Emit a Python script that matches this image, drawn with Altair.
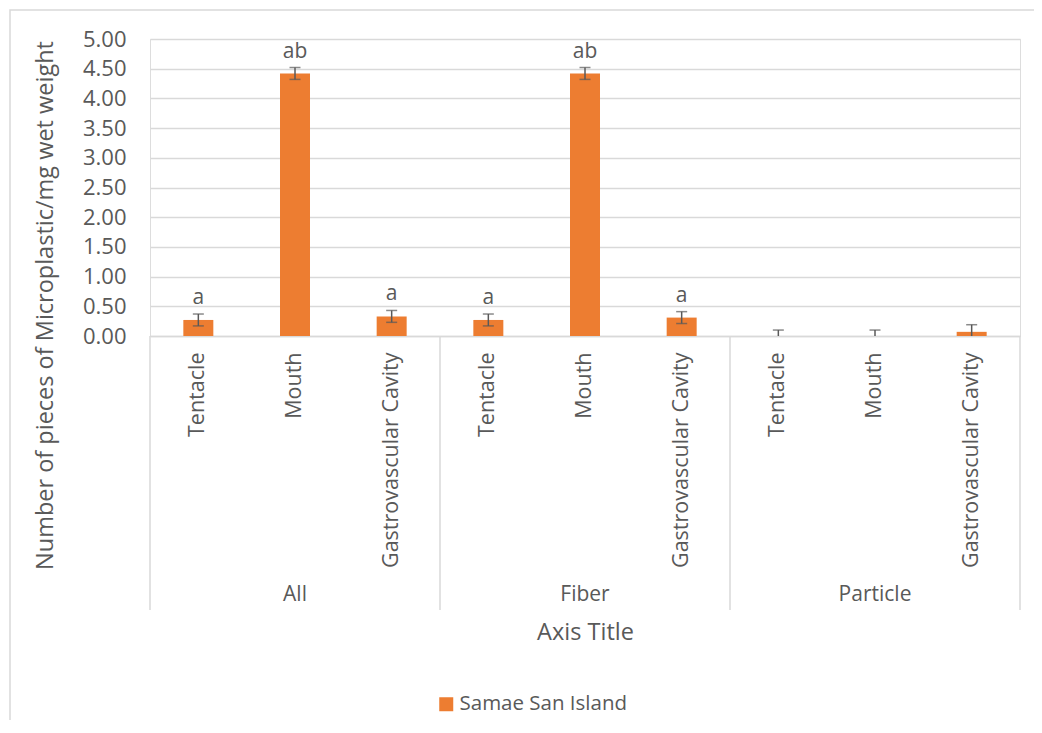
import altair as alt
import pandas as pd

# ---- data ----
groups = ["All", "All", "All", "Fiber", "Fiber", "Fiber", "Particle", "Particle", "Particle"]
parts = ["Tentacle", "Mouth", "Gastrovascular Cavity"] * 3
values = [0.27, 4.42, 0.33, 0.27, 4.42, 0.31, 0.0, 0.0, 0.07]
errors = [0.10, 0.10, 0.10, 0.10, 0.10, 0.10, 0.10, 0.10, 0.12]
letters = ["a", "ab", "a", "a", "ab", "a", "", "", ""]
series_name = "Samae San Island"
group_names = ["All", "Fiber", "Particle"]
group_pos = [0.5, 1.5, 2.5]
boundaries = [0, 1, 2, 3]
y_ticks = [0, 0.5, 1, 1.5, 2, 2.5, 3, 3.5, 4, 4.5, 5]

FONT = "Open Sans"
TXT = "#595959"
GRID = "#D9D9D9"
ORANGE = "#ED7D31"

W, H = 870, 297

df = pd.DataFrame({
    "key": [f"{g}|{p}" for g, p in zip(groups, parts)],
    "group": groups,
    "part": parts,
    "value": values,
    "err": errors,
    "letter": letters,
    "series": [series_name] * len(values),
})
df["lo"] = df["value"] - df["err"]
df["hi"] = df["value"] + df["err"]

order = list(df["key"])

x_axis = alt.Axis(
    title="Axis Title",
    labelExpr="split(datum.value, '|')[1]",
    labelAngle=270,
    labelAlign="right",
    labelBaseline="middle",
    labelPadding=16,
    labelFontSize=21.5,
    labelColor=TXT,
    labelFont=FONT,
    labelLimit=0,
    labelOverlap=False,
    ticks=False,
    domainColor=GRID,
    domainWidth=1.5,
    titleFont=FONT,
    titleFontSize=23.5,
    titleFontWeight="normal",
    titleColor=TXT,
    titleY=296,
    titleBaseline="middle",
)
x_scale = alt.Scale(paddingInner=0.69, paddingOuter=0.345)


def xk():
    return alt.X("key:N", sort=order, scale=x_scale, axis=x_axis)


y_axis = alt.Axis(
    title="Number of pieces of Microplastic/mg wet weight",
    values=y_ticks,
    format=".2f",
    labelOverlap=False,
    domain=False,
    ticks=False,
    labelPadding=24,
    labelFontSize=22,
    labelColor=TXT,
    labelFont=FONT,
    grid=True,
    gridColor=GRID,
    gridWidth=1.5,
    titleFont=FONT,
    titleFontSize=23.5,
    titleFontWeight="normal",
    titleColor=TXT,
    titleX=-105,
    titleY=266,
    titleAngle=270,
    titleAlign="center",
    titleBaseline="middle",
)
y_scale = alt.Scale(domain=[0, 5], nice=False)


def yf(field):
    return alt.Y(f"{field}:Q", scale=y_scale, axis=y_axis)


base = alt.Chart(df)

bars = base.mark_bar(size=30).encode(
    x=xk(),
    y=yf("value"),
    color=alt.Color(
        "series:N",
        scale=alt.Scale(range=[ORANGE]),
        legend=alt.Legend(
            title=None,
            orient="none",
            legendX=286,
            legendY=655,
            symbolType="square",
            symbolSize=196,
            symbolStrokeWidth=0,
            labelFont=FONT,
            labelFontSize=20.5,
            labelColor=TXT,
            labelOffset=3,
            labelLimit=0,
        ),
    ),
)

err_rule = base.mark_rule(color=TXT, strokeWidth=1.5, clip=True).encode(
    x=xk(),
    y=yf("lo"),
    y2="hi:Q",
)
cap_hi = base.mark_tick(color=TXT, size=11, thickness=1.5, clip=True).encode(
    x=xk(),
    y=yf("hi"),
)
cap_lo = base.mark_tick(color=TXT, size=11, thickness=1.5, clip=True).encode(
    x=xk(),
    y=yf("lo"),
)
letter_txt = base.mark_text(
    font=FONT, fontSize=21, color=TXT, baseline="alphabetic", dy=-10
).encode(
    x=xk(),
    y=yf("hi"),
    text="letter:N",
)

main = alt.layer(bars, err_rule, cap_hi, cap_lo, letter_txt)

# ---- group separators and group labels (second x scale) ----
bdf = pd.DataFrame({"b": boundaries})
gdf = pd.DataFrame({"g": group_pos, "name": group_names})
gx = alt.Scale(domain=[0, 3], nice=False, zero=False)

sep = alt.Chart(bdf).mark_rule(color=GRID, strokeWidth=1.5).encode(
    x=alt.X("b:Q", scale=gx, axis=None),
    y=alt.value(H),
    y2=alt.value(H + 274),
)
gtext = alt.Chart(gdf).mark_text(
    font=FONT, fontSize=21, color=TXT, baseline="middle"
).encode(
    x=alt.X("g:Q", scale=gx, axis=None),
    y=alt.value(H + 259),
    text="name:N",
)

# ---- chart-area border (decoration) ----
border = alt.Chart(pd.DataFrame({"d": [0]})).mark_rect(
    fill=None, stroke=GRID, strokeWidth=1.5
).encode(
    x=alt.value(-140),
    x2=alt.value(W + 40),
    y=alt.value(-29),
    y2=alt.value(H + 450),
)

deco = alt.layer(sep, gtext, border)

chart = (
    alt.layer(main, deco)
    .resolve_scale(x="independent")
    .properties(
        width=W,
        height=H,
        autosize=alt.AutoSizeParams(type="none"),
        padding={"left": 142, "top": 31, "right": 14, "bottom": 384},
    )
    .configure_view(stroke=None)
    .configure(font=FONT)
)

chart.save("out.html", embed_options={"renderer": "svg", "actions": False})
